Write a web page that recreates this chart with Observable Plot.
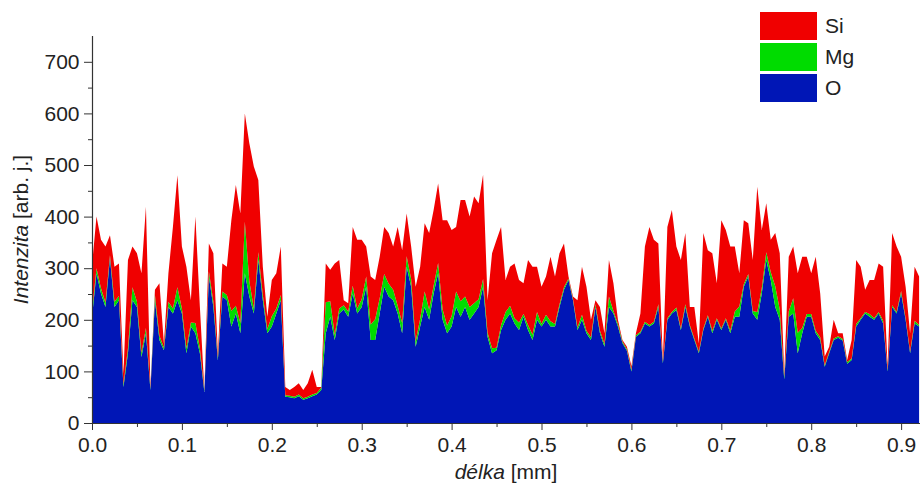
<!DOCTYPE html>
<html><head><meta charset="utf-8">
<script src="https://cdn.jsdelivr.net/npm/d3@7"></script>
<script src="https://cdn.jsdelivr.net/npm/@observablehq/plot@0.6"></script>
<style>
html,body{margin:0;padding:0;background:#fff;}
#wrap{position:relative;width:924px;height:490px;font-family:"Liberation Sans",Arial,sans-serif;color:#222;}
.lg-box{position:absolute;width:57px;height:28px;}
.lg-txt{position:absolute;font-size:21px;line-height:28px;}
</style>
</head><body>
<div id="wrap"></div>
<script>
// sample spacing along the line scan (mm)
const step = 0.005;
// O (bottom layer) intensity
const O = [205,290,251,225,320,225,238,70,135,238,225,128,174,64,238,161,141,225,212,238,212,135,187,174,135,60,284,225,122,245,238,
187,212,174,290,245,212,316,238,174,187,212,238,51,50,48,52,45,48,52,55,64,174,206,161,212,220,206,251,212,225,
264,161,161,212,264,245,238,212,174,303,264,148,187,225,200,251,290,200,174,187,225,206,225,200,212,225,264,167,135,141,
180,200,212,193,180,206,180,161,200,187,200,187,187,225,258,277,238,180,200,174,161,225,174,148,225,212,187,155,140,100,167,
174,193,187,193,225,116,200,212,219,180,225,187,161,135,180,206,174,200,180,200,174,206,206,264,284,212,200,251,316,277,
225,200,85,206,212,135,174,206,206,174,161,109,135,161,165,160,115,122,187,200,212,206,200,212,193,100,225,212,251,200,135,193,187];
// Mg (middle layer) intensity
const Mg = [10,10,10,8,5,10,8,5,10,25,10,8,10,3,10,8,5,10,10,25,10,10,8,20,10,3,10,10,5,10,10,
30,15,20,100,30,10,15,10,8,20,10,10,3,3,3,3,3,3,3,3,5,60,30,10,10,8,10,15,10,15,
20,30,40,30,25,25,20,15,20,20,15,10,15,30,20,15,20,20,15,20,30,30,20,25,20,15,15,8,10,5,
10,15,15,10,15,5,10,10,15,5,10,10,5,5,5,3,3,5,10,5,5,5,5,5,20,5,5,3,3,3,3,
3,3,3,3,5,3,3,3,5,3,5,3,3,3,3,3,5,3,3,3,5,10,20,5,5,5,15,10,15,15,
40,20,5,10,30,40,10,5,5,5,5,3,3,3,3,3,3,3,5,3,3,5,3,3,5,3,3,3,5,3,3,5,3];
// Si (top layer) intensity
const Si = [90,100,94,109,39,68,63,21,171,79,94,154,235,3,10,102,8,55,158,217,120,158,43,206,80,1,54,94,8,54,55,
176,234,212,210,267,275,140,55,24,70,68,94,16,11,19,22,16,26,48,12,1,75,61,138,94,10,16,114,133,115,
58,93,76,80,91,98,84,153,141,83,63,106,101,132,148,147,154,173,204,167,125,196,187,175,207,186,202,63,184,209,
190,62,76,106,82,60,126,132,88,72,74,125,92,99,85,4,4,53,93,85,34,8,46,21,71,54,8,3,5,7,4,
35,146,190,159,118,3,177,198,118,133,138,35,61,16,185,126,150,68,210,171,163,126,64,124,98,99,243,113,95,63,
103,109,5,106,100,115,138,111,79,143,85,17,10,36,6,11,4,36,124,100,43,66,74,94,105,6,140,127,66,61,36,105,94];

const series = ["O","Mg","Si"];
const seriesColors = ["#0016b6","#00dc00","#f00000"];
const legendOrder = ["Si","Mg","O"];
const yTicks = [0,100,200,300,400,500,600,700];
const yMinor = [50,150,250,350,450,550,650];
const xTicks = [0,0.1,0.2,0.3,0.4,0.5,0.6,0.7,0.8,0.9];
const xMinor = [0.05,0.15,0.25,0.35,0.45,0.55,0.65,0.75,0.85];
const xTitle = ["délka"," [mm]"];
const yTitle = ["Intenzita"," [arb. j.]"];

const values = {O, Mg, Si};
const data = [];
O.forEach((_, i) => {
  const x = +(i * step).toFixed(4);
  for (const s of series) data.push({x, s, v: values[s][i]});
});

const axisColor = "#333";
const chart = Plot.plot({
  width: 924, height: 490,
  marginLeft: 92, marginRight: 4, marginTop: 36, marginBottom: 67,
  x: {domain: [0, 0.921]},
  y: {domain: [0, 750]},
  color: {domain: series, range: seriesColors},
  style: {fontFamily: "'Liberation Sans', Arial, sans-serif", fontSize: "21px", color: "#222", background: "#fff"},
  marks: [
    Plot.areaY(data, {x: "x", y: "v", fill: "s", order: series, curve: "linear"}),
    Plot.ruleX([0], {stroke: axisColor, strokeWidth: 1.2}),
    Plot.ruleY([0], {stroke: axisColor, strokeWidth: 1.2}),
    Plot.axisY({ticks: yTicks, tickSize: 8, tickPadding: 5, label: null, stroke: axisColor, fontSize: 21}),
    Plot.axisY({ticks: yMinor, tickSize: 4, tickFormat: () => "", label: null, stroke: axisColor}),
    Plot.axisX({ticks: xTicks, tickSize: 7, tickPadding: 7, tickFormat: d3.format(".1f"), label: null, stroke: axisColor, fontSize: 21}),
    Plot.axisX({ticks: xMinor, tickSize: 4, tickFormat: () => "", label: null, stroke: axisColor})
  ]
});

const wrap = document.getElementById("wrap");
wrap.appendChild(chart);

// axis titles with italic part
const svg = d3.select(chart);
const xr = chart.scale("x").range, yr = chart.scale("y").range;
const tx = svg.append("text").attr("x", (xr[0] + xr[1]) / 2).attr("y", 479)
  .attr("text-anchor", "middle").attr("fill", "#222").style("font-size", "21px");
tx.append("tspan").attr("font-style", "italic").text(xTitle[0]);
tx.append("tspan").text(xTitle[1]);
const ty = svg.append("text").attr("transform", `translate(28,${(yr[0] + yr[1]) / 2}) rotate(-90)`)
  .attr("text-anchor", "middle").attr("fill", "#222").style("font-size", "21px");
ty.append("tspan").attr("font-style", "italic").text(yTitle[0]);
ty.append("tspan").text(yTitle[1]);

// legend
legendOrder.forEach((s, k) => {
  const top = 12 + k * 31.2;
  const b = document.createElement("div");
  b.className = "lg-box";
  b.style.left = "760px"; b.style.top = top + "px";
  b.style.background = seriesColors[series.indexOf(s)];
  const t = document.createElement("div");
  t.className = "lg-txt";
  t.style.left = "825px"; t.style.top = top + "px";
  t.textContent = s;
  wrap.appendChild(b); wrap.appendChild(t);
});
</script>
</body></html>
